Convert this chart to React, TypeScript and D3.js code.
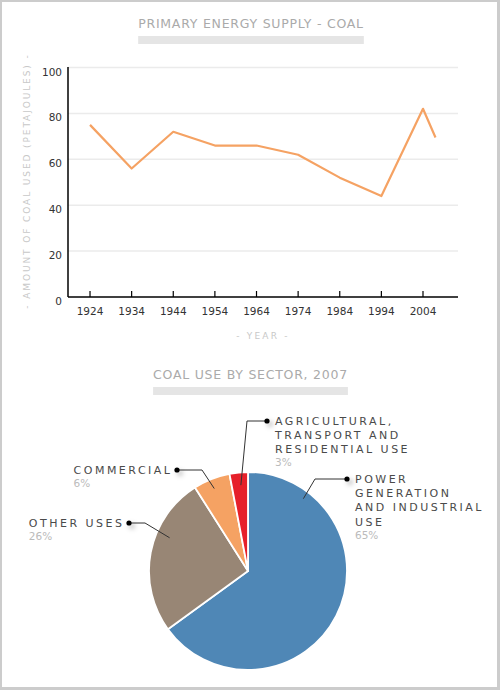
import React, { useEffect, useRef } from 'react';
import * as d3 from 'd3';

// line chart data
const years = [1924, 1934, 1944, 1954, 1964, 1974, 1984, 1994, 2004, 2007];
const coalUse = [75, 56, 72, 66, 66, 62, 52, 44, 82, 69.5];
const xTicks = [1924, 1934, 1944, 1954, 1964, 1974, 1984, 1994, 2004];
const yTicks = [0, 20, 40, 60, 80, 100];

// pie chart data
const sectorNames = [
  ['POWER', 'GENERATION', 'AND INDUSTRIAL', 'USE'],
  ['OTHER USES'],
  ['COMMERCIAL'],
  ['AGRICULTURAL,', 'TRANSPORT AND', 'RESIDENTIAL USE'],
];
const sectorShares = [65, 26, 6, 3];
const sectorColors = ['#4f87b6', '#988675', '#f5a263', '#e6202a'];

// leader line layout: where in the slice it starts, elbow and dot offsets from pie centre
const leaders = [
  { frac: 0.16, rf: 0.92, elbow: [67, -92], dot: [99, -92], side: 'right' },
  { frac: 0.63, rf: 0.86, elbow: [-103, -48], dot: [-119, -48], side: 'left' },
  { frac: 0.47, rf: 0.9, elbow: [-46, -101], dot: [-71, -101], side: 'left' },
  { frac: 0.56, rf: 0.87, elbow: [-1, -150], dot: [19, -150], side: 'right' },
];

const W = 500;
const H = 690;
const FONT = '"DejaVu Sans", Verdana, sans-serif';

export default function App() {
  const svgRef = useRef<SVGSVGElement>(null);

  useEffect(() => {
    if (!svgRef.current) return;
    const svg = d3.select(svgRef.current);
    svg.selectAll('*').remove();

    // frame
    svg.append('rect').attr('width', W).attr('height', H).attr('fill', '#cccccc');
    svg.append('rect').attr('x', 2).attr('y', 2).attr('width', W - 5).attr('height', H - 5).attr('fill', '#fff');

    const defs = svg.append('defs');
    const shadow = defs.append('filter').attr('id', 'dotshadow')
      .attr('x', '-200%').attr('y', '-200%').attr('width', '500%').attr('height', '500%');
    shadow.append('feDropShadow')
      .attr('dx', 3).attr('dy', 3).attr('stdDeviation', 2.4)
      .attr('flood-color', '#000').attr('flood-opacity', 0.3);

    const title = (text: string, cx: number, baseline: number) => {
      const t = svg.append('text')
        .attr('x', cx).attr('y', baseline)
        .attr('text-anchor', 'middle')
        .attr('font-family', FONT).attr('font-size', 12.5)
        .attr('letter-spacing', 0.75)
        .attr('fill', '#aaaaaa')
        .text(text);
      const len = (t.node() as SVGTextElement).getComputedTextLength();
      svg.insert('rect', 'text')
        .attr('x', cx - len / 2).attr('y', baseline + 8)
        .attr('width', len).attr('height', 8)
        .attr('fill', '#e5e5e5');
    };

    // ---------- line chart ----------
    title('PRIMARY ENERGY SUPPLY - COAL', 251, 28);

    const x = d3.scaleLinear().domain([1918.71, 2012.41]).range([68, 458]);
    const y = d3.scaleLinear().domain([0, 100]).range([297, 67.5]);

    const g = svg.append('g');

    g.selectAll('line.grid')
      .data(yTicks.filter(v => v > 0))
      .join('line')
      .attr('class', 'grid')
      .attr('x1', 68).attr('x2', 458)
      .attr('y1', d => y(d)).attr('y2', d => y(d))
      .attr('stroke', '#ebebeb').attr('stroke-width', 1.5);

    g.selectAll('text.ytick')
      .data(yTicks)
      .join('text')
      .attr('class', 'ytick')
      .attr('x', 62).attr('y', d => y(d) + 8)
      .attr('text-anchor', 'end')
      .attr('font-family', FONT).attr('font-size', 10.5)
      .attr('fill', '#333')
      .text(d => d);

    g.selectAll('line.xtick')
      .data(xTicks)
      .join('line')
      .attr('class', 'xtick')
      .attr('x1', d => x(d)).attr('x2', d => x(d))
      .attr('y1', 291).attr('y2', 297)
      .attr('stroke', '#000').attr('stroke-width', 1.2);

    g.selectAll('text.xlab')
      .data(xTicks)
      .join('text')
      .attr('class', 'xlab')
      .attr('x', d => x(d)).attr('y', 315)
      .attr('text-anchor', 'middle')
      .attr('font-family', FONT).attr('font-size', 10.5)
      .attr('fill', '#333')
      .text(d => d);

    // axes
    g.append('line').attr('x1', 68).attr('x2', 68).attr('y1', 67).attr('y2', 297)
      .attr('stroke', '#000').attr('stroke-width', 1.5);
    g.append('line').attr('x1', 68).attr('x2', 458).attr('y1', 297).attr('y2', 297)
      .attr('stroke', '#000').attr('stroke-width', 1.5);

    const line = d3.line<number>()
      .x((_, i) => x(years[i]))
      .y(d => y(d));

    g.append('path')
      .attr('d', line(coalUse))
      .attr('fill', 'none')
      .attr('stroke', '#f5a263')
      .attr('stroke-width', 2.2)
      .attr('stroke-linejoin', 'round');

    g.append('text')
      .attr('x', 263).attr('y', 338.5)
      .attr('text-anchor', 'middle')
      .attr('font-family', FONT).attr('font-size', 9)
      .attr('letter-spacing', 2.2)
      .attr('fill', '#c8c8c8')
      .text('- YEAR -');

    g.append('text')
      .attr('transform', 'translate(30,181) rotate(-90)')
      .attr('text-anchor', 'middle')
      .attr('font-family', FONT).attr('font-size', 9)
      .attr('letter-spacing', 1.9)
      .attr('fill', '#c8c8c8')
      .text('- AMOUNT OF COAL USED (PETAJOULES) -');

    // ---------- pie chart ----------
    title('COAL USE BY SECTOR, 2007', 250.5, 379);

    const cx = 248;
    const cy = 571;
    const r = 99;

    const pie = d3.pie<number>().sort(null).value(d => d);
    const arcs = pie(sectorShares);
    const arc = d3.arc<d3.PieArcDatum<number>>().innerRadius(0).outerRadius(r);

    const pg = svg.append('g').attr('transform', `translate(${cx},${cy})`);
    pg.selectAll('path')
      .data(arcs)
      .join('path')
      .attr('d', arc)
      .attr('fill', (_, i) => sectorColors[i])
      .attr('stroke', '#fff')
      .attr('stroke-width', 1.8)
      .attr('stroke-linejoin', 'round');

    const lg = pg.append('g');

    arcs.forEach((a, i) => {
      const L = leaders[i];
      const ang = a.startAngle + (a.endAngle - a.startAngle) * L.frac;
      const sx = Math.sin(ang) * r * L.rf;
      const sy = -Math.cos(ang) * r * L.rf;
      lg.append('polyline')
        .attr('points', `${sx},${sy} ${L.elbow[0]},${L.elbow[1]} ${L.dot[0]},${L.dot[1]}`)
        .attr('fill', 'none')
        .attr('stroke', '#333')
        .attr('stroke-width', 1);
      lg.append('circle')
        .attr('cx', L.dot[0]).attr('cy', L.dot[1]).attr('r', 2.6)
        .attr('fill', '#000')
        .attr('filter', 'url(#dotshadow)');

      const lines = sectorNames[i];
      const right = L.side === 'right';
      const tx = right ? L.dot[0] + 8 : L.dot[0] - 4.5;
      let minX = Infinity;
      lines.forEach((s, j) => {
        const t = lg.append('text')
          .attr('x', tx).attr('y', L.dot[1] + 4 + j * 14.2)
          .attr('text-anchor', right ? 'start' : 'end')
          .attr('font-family', FONT).attr('font-size', 11)
          .attr('letter-spacing', 2.5)
          .attr('fill', '#4a4a4a')
          .text(s);
        const len = (t.node() as SVGTextElement).getComputedTextLength();
        minX = Math.min(minX, tx - len);
      });
      lg.append('text')
        .attr('x', right ? tx : minX).attr('y', L.dot[1] + 4 + (lines.length - 1) * 14.2 + 13)
        .attr('font-family', FONT).attr('font-size', 10.5)
        .attr('fill', '#bbbbbb')
        .text(`${sectorShares[i]}%`);
    });
  }, []);

  return (
    <svg
      ref={svgRef}
      width={W}
      height={H}
      style={{ position: 'absolute', left: 0, top: 0, display: 'block' }}
    />
  );
}
